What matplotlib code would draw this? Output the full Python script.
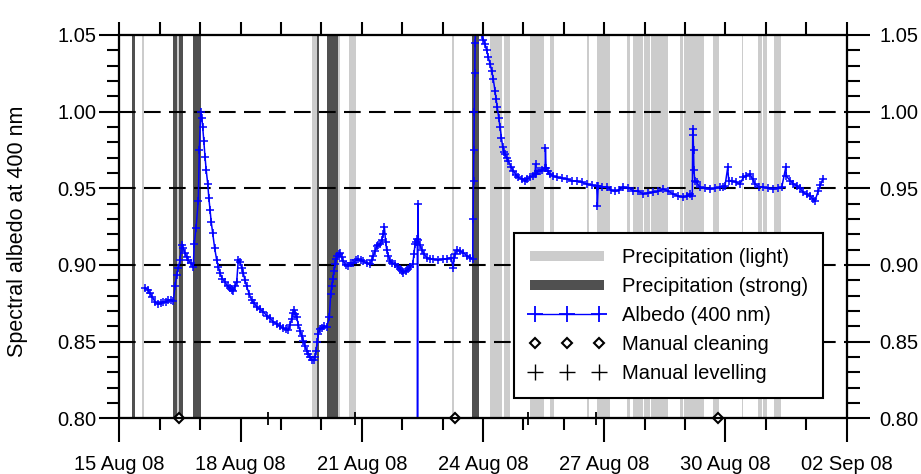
import numpy as np
import matplotlib
matplotlib.use("Agg")
import matplotlib.pyplot as plt
import matplotlib.dates as mdates
from matplotlib.lines import Line2D

plt.rcParams['font.family'] = ['Liberation Sans', 'DejaVu Sans']

# ---------------- data (days since 15 Aug 2008 00:00) ----------------
start_date = np.datetime64('2008-08-15T00:00')

albedo_day = [0.638, 0.700, 0.760, 0.820, 0.883, 0.965, 1.030, 1.089, 1.150, 1.213,
              1.280, 1.336, 1.378, 1.420, 1.460, 1.502, 1.544, 1.585, 1.626, 1.670,
              1.707, 1.770, 1.831, 1.856, 1.898, 1.955, 1.980, 2.014, 2.040, 2.064,
              2.090, 2.121, 2.150, 2.188, 2.215, 2.244, 2.275, 2.311, 2.360, 2.410,
              2.450, 2.492, 2.550, 2.616, 2.680, 2.739, 2.780, 2.821, 2.865, 2.905,
              2.945, 2.987, 3.030, 3.069, 3.110, 3.153, 3.215, 3.276, 3.340, 3.400,
              3.480, 3.563, 3.645, 3.729, 3.810, 3.895, 3.975, 4.058, 4.120, 4.182,
              4.225, 4.266, 4.300, 4.331, 4.360, 4.390, 4.430, 4.472, 4.510, 4.553,
              4.595, 4.637, 4.680, 4.719, 4.770, 4.818, 4.845, 4.868, 4.900, 4.925,
              4.965, 5.009, 5.070, 5.132, 5.197, 5.231, 5.256, 5.281, 5.310, 5.338,
              5.365, 5.395, 5.430, 5.461, 5.500, 5.543, 5.605, 5.667, 5.730, 5.791,
              5.850, 5.914, 5.975, 6.038, 6.120, 6.204, 6.245, 6.286, 6.330, 6.370,
              6.410, 6.451, 6.490, 6.533, 6.560, 6.590, 6.617, 6.660, 6.699, 6.760,
              6.823, 6.885, 6.947, 6.990, 7.028, 7.090, 7.152, 7.205, 7.261, 7.290,
              7.318, 7.350, 7.374, 7.380, 7.390, 7.400, 7.440, 7.483, 7.545, 7.607,
              7.690, 7.770, 7.890, 8.018, 8.110, 8.208, 8.265, 8.280, 8.315, 8.349,
              8.430, 8.513, 8.600, 8.679, 8.745, 8.755, 8.765, 8.775, 8.785, 8.795,
              8.805, 8.815, 8.870, 8.930, 8.970, 9.010, 9.050, 9.090, 9.132, 9.175,
              9.216, 9.255, 9.297, 9.325, 9.354, 9.390, 9.421, 9.455, 9.488, 9.515,
              9.545, 9.585, 9.626, 9.690, 9.750, 9.810, 9.874, 9.960, 10.040, 10.100,
              10.163, 10.225, 10.287, 10.300, 10.320, 10.365, 10.411, 10.470, 10.535, 10.545,
              10.560, 10.600, 10.658, 10.740, 10.824, 10.950, 11.072, 11.200, 11.319, 11.440,
              11.566, 11.690, 11.814, 11.830, 11.850, 11.950, 12.061, 12.160, 12.267, 12.370,
              12.472, 12.600, 12.720, 12.840, 12.967, 13.090, 13.215, 13.340, 13.462, 13.590,
              13.710, 13.830, 13.957, 14.040, 14.123, 14.180, 14.190, 14.200, 14.210, 14.220,
              14.240, 14.289, 14.370, 14.490, 14.618, 14.740, 14.865, 14.930, 14.989, 15.056,
              15.080, 15.155, 15.260, 15.360, 15.442, 15.520, 15.608, 15.670, 15.731, 15.830,
              15.937, 16.060, 16.184, 16.290, 16.392, 16.491, 16.510, 16.597, 16.680, 16.763,
              16.845, 16.927, 17.010, 17.092, 17.160, 17.216, 17.298, 17.350, 17.407]
albedo_val = [0.885, 0.884, 0.8815, 0.879, 0.876, 0.8745, 0.875, 0.876, 0.876, 0.877,
              0.877, 0.8765, 0.886, 0.8935, 0.898, 0.903, 0.913, 0.911, 0.9076, 0.905,
              0.9033, 0.901, 0.899, 0.914, 0.924, 0.942, 0.975, 1.000, 0.996, 0.990,
              0.981, 0.9707, 0.962, 0.953, 0.944, 0.936, 0.928, 0.9207, 0.911, 0.9033,
              0.899, 0.8946, 0.891, 0.889, 0.886, 0.885, 0.884, 0.8833, 0.886, 0.889,
              0.9033, 0.902, 0.898, 0.8946, 0.890, 0.886, 0.881, 0.877, 0.875, 0.8728,
              0.871, 0.8696, 0.867, 0.8652, 0.863, 0.8615, 0.860, 0.8587, 0.858, 0.8576,
              0.861, 0.865, 0.869, 0.8706, 0.868, 0.8658, 0.861, 0.857, 0.854, 0.8506,
              0.847, 0.8442, 0.842, 0.8398, 0.838, 0.8377, 0.840, 0.844, 0.850, 0.855,
              0.858, 0.8589, 0.860, 0.8597, 0.8658, 0.881, 0.886, 0.8907, 0.896, 0.9004,
              0.904, 0.9058, 0.907, 0.908, 0.905, 0.9026, 0.900, 0.8994, 0.901, 0.9015,
              0.903, 0.9037, 0.903, 0.9026, 0.901, 0.9004, 0.903, 0.9058, 0.909, 0.9123,
              0.913, 0.9134, 0.916, 0.920, 0.9247, 0.915, 0.910, 0.906, 0.9026, 0.901,
              0.9004, 0.899, 0.8972, 0.896, 0.895, 0.896, 0.8972, 0.899, 0.9004, 0.907,
              0.9134, 0.915, 0.9167, 0.790, 0.9398, 0.916, 0.913, 0.910, 0.907, 0.9048,
              0.904, 0.9037, 0.9035, 0.9037, 0.904, 0.9048, 0.8978, 0.9048, 0.907, 0.910,
              0.909, 0.908, 0.906, 0.9048, 0.9037, 0.930, 0.955, 0.975, 1.000, 1.025,
              1.045, 1.052, 1.055, 1.055, 1.050, 1.047, 1.044, 1.040, 1.0354, 1.031,
              1.0267, 1.021, 1.0137, 1.008, 1.0028, 0.996, 0.9898, 0.983, 0.9767, 0.974,
              0.9724, 0.970, 0.968, 0.964, 0.9615, 0.959, 0.9572, 0.956, 0.955, 0.956,
              0.9572, 0.958, 0.9593, 0.9659, 0.9593, 0.961, 0.9615, 0.962, 0.9633, 0.9763,
              0.9633, 0.961, 0.9593, 0.958, 0.9572, 0.9565, 0.9561, 0.955, 0.9546, 0.954,
              0.9528, 0.952, 0.9517, 0.9387, 0.9517, 0.951, 0.9507, 0.949, 0.948, 0.949,
              0.9507, 0.950, 0.9485, 0.948, 0.9465, 0.947, 0.9474, 0.948, 0.9496, 0.948,
              0.9463, 0.945, 0.9442, 0.945, 0.9463, 0.945, 0.9885, 0.985, 0.975, 0.962,
              0.955, 0.9539, 0.9506, 0.950, 0.9496, 0.950, 0.9506, 0.951, 0.9517, 0.9636,
              0.955, 0.955, 0.954, 0.9528, 0.9571, 0.958, 0.9593, 0.956, 0.9528, 0.951,
              0.9506, 0.950, 0.9496, 0.950, 0.9506, 0.9636, 0.958, 0.955, 0.953, 0.9517,
              0.950, 0.9474, 0.946, 0.9452, 0.943, 0.942, 0.9485, 0.952, 0.956]

light_start = [0.562, 1.420, 4.776, 5.400, 5.684, 8.233, 9.173, 9.527, 10.163, 10.646,
               11.566, 11.829, 12.564, 12.700, 12.984, 13.158, 13.875, 13.962, 14.699,
               15.397, 15.806, 15.929, 16.209]
light_end = [0.611, 1.485, 4.900, 5.462, 5.845, 8.283, 9.463, 9.656, 10.510, 10.757,
             11.616, 12.143, 12.638, 12.947, 13.121, 13.579, 13.949, 14.469, 14.848,
             15.434, 15.912, 16.036, 16.375]
strong_start = [0.314, 1.336, 1.485, 1.816, 4.900, 5.147, 8.716]
strong_end = [0.396, 1.420, 1.569, 2.014, 4.949, 5.400, 8.889]

cleaning_day = [1.477, 8.307, 14.815]
levelling_day = [3.687, 5.833, 10.121, 11.797]
event_val = 0.80

grid_levels = [0.85, 0.90, 0.95, 1.00]
tick_dates = ['2008-08-15', '2008-08-18', '2008-08-21', '2008-08-24',
              '2008-08-27', '2008-08-30', '2008-09-02']
y_ticks = [0.80, 0.85, 0.90, 0.95, 1.00, 1.05]

ylabel = 'Spectral albedo at 400 nm'
legend_labels = ['Precipitation (light)', 'Precipitation (strong)', 'Albedo (400 nm)',
                 'Manual cleaning', 'Manual levelling']

# ---------------- helpers ----------------
def to_dt(days):
    secs = np.round(np.asarray(days, dtype=float) * 86400).astype('int64')
    return start_date + secs.astype('timedelta64[s]')

PX = 72 / 100.0  # points per pixel at dpi 100
LIGHT = '#cccccc'
STRONG = '#505050'
BLUE = '#0000ff'
FS = 14.5

fig = plt.figure(figsize=(9.21, 4.74), dpi=100)
ax = fig.add_axes([119.3 / 921, 1 - 418.3 / 474, 727.4 / 921, 383.3 / 474])

for a, b in zip(to_dt(light_start), to_dt(light_end)):
    ax.axvspan(a, b, color=LIGHT, lw=0, zorder=1)
for a, b in zip(to_dt(strong_start), to_dt(strong_end)):
    ax.axvspan(a, b, color=STRONG, lw=0, zorder=1.5)

for g in grid_levels:
    ax.axhline(g, color='black', lw=1.5, ls=(0, (8, 4)), zorder=2)

ax.plot(to_dt(albedo_day), albedo_val, color=BLUE, lw=1.1, marker='+',
        ms=6, mew=1.1, zorder=3)

ax.plot(to_dt(cleaning_day), [event_val] * len(cleaning_day), ls='none', marker='D',
        ms=5.5, mfc='white', mec='black', mew=1.5, clip_on=False, zorder=6)
ax.plot(to_dt(levelling_day), [event_val] * len(levelling_day), ls='none', marker='+',
        ms=13 * PX, mec='black', mew=1.3, clip_on=False, zorder=6)

x0 = np.datetime64(tick_dates[0]); x1 = np.datetime64(tick_dates[-1])
ax.set_xlim(x0, x1)
ax.set_ylim(y_ticks[0], y_ticks[-1])

ax.xaxis.set_major_locator(matplotlib.ticker.FixedLocator(
    mdates.date2num(np.array(tick_dates, dtype='datetime64[D]'))))
ax.xaxis.set_major_formatter(mdates.DateFormatter('%d %b %y'))
ax.xaxis.set_minor_locator(mdates.DayLocator())
ax.set_yticks(y_ticks)
ax.set_yticklabels([f'{v:.2f}' for v in y_ticks])
ax.yaxis.set_minor_locator(matplotlib.ticker.MultipleLocator(0.01))

ax.tick_params(axis='x', which='major', direction='out', length=24 * PX, width=1.5,
               pad=13 * PX, labelsize=FS)
ax.tick_params(axis='x', which='minor', direction='out', length=12 * PX, width=1.5)
ax.tick_params(axis='y', which='major', direction='out', length=20 * PX, width=1.5,
               pad=3 * PX, labelsize=FS)
ax.tick_params(axis='y', which='minor', direction='out', length=12 * PX, width=1.5)
for s in ax.spines.values():
    s.set_linewidth(1.5)

# top axis (ticks only)
axt = ax.twiny()
axt.set_xlim(x0, x1)
axt.xaxis.set_major_locator(mdates.DayLocator())
axt.xaxis.set_minor_locator(matplotlib.ticker.NullLocator())
axt.tick_params(axis='x', which='major', direction='out', length=13 * PX, width=1.5,
                labeltop=False)
# right axis (ticks + labels)
axr = ax.twinx()
axr.set_ylim(y_ticks[0], y_ticks[-1])
axr.set_yticks(y_ticks)
axr.set_yticklabels([f'{v:.2f}' for v in y_ticks])
axr.yaxis.set_minor_locator(matplotlib.ticker.MultipleLocator(0.01))
axr.tick_params(axis='y', which='major', direction='out', length=23 * PX, width=1.5,
                pad=10 * PX, labelsize=FS)
axr.tick_params(axis='y', which='minor', direction='out', length=13 * PX, width=1.5)
for a in (axt, axr):
    for s in a.spines.values():
        s.set_linewidth(1.5)

fig.text(18 / 921, 1 - 231 / 474, ylabel, rotation=90, ha='center', va='center',
         fontsize=15.5)

handles = [
    Line2D([], [], color=LIGHT, lw=10 * PX),
    Line2D([], [], color=STRONG, lw=10 * PX),
    Line2D([], [], color=BLUE, lw=1.0, marker='+', ms=11 * PX * 1.4, mew=1.3),
    Line2D([], [], ls='none', marker='D', ms=5.5, mfc='white', mec='black', mew=1.5),
    Line2D([], [], ls='none', marker='+', ms=11 * PX * 1.4, mec='black', mew=1.0),
]
leg = axr.legend(handles, legend_labels, loc='upper left',
                 bbox_to_anchor=((514 - 119.3) / 727.4, (418.3 - 233.3) / 383.3),
                 borderaxespad=0, fontsize=FS, numpoints=3, handlelength=3.8,
                 handletextpad=0.85, labelspacing=0.5, borderpad=0.72,
                 fancybox=False, framealpha=1, edgecolor='black')
leg.get_frame().set_linewidth(1.5)
leg.set_zorder(10)

fig.savefig('out.png', dpi=100)
